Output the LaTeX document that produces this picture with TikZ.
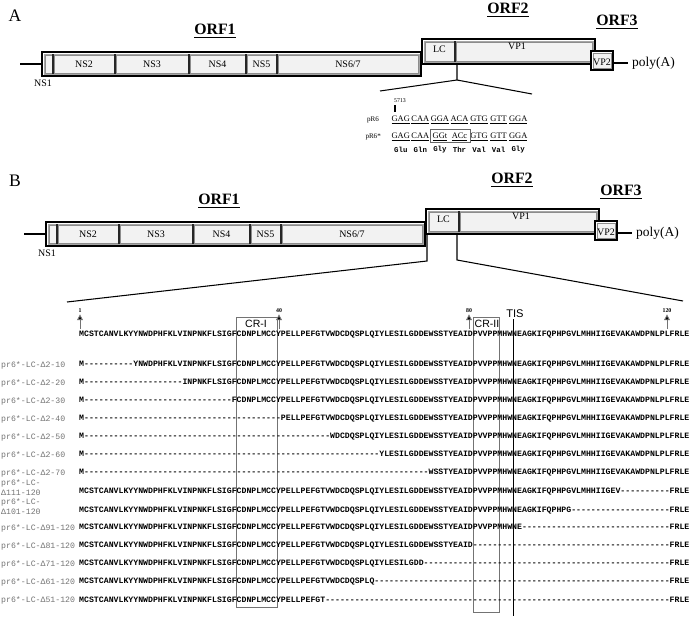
\documentclass[tikz,border=0pt]{standalone}
\usepackage{fontspec}
\setmainfont{Liberation Serif}
\setsansfont{Liberation Sans}
\setmonofont{Liberation Mono}
\usetikzlibrary{arrows.meta}
\tikzset{>=Latex}
\tikzstyle{orfframe}=[draw=black,line width=1.6pt]
\tikzstyle{inframe}=[draw=black!35,line width=0.8pt]
\tikzstyle{seg}=[draw=black!45,fill=black!5,line width=0.6pt]
\tikzstyle{divider}=[draw=black!85,line width=1.3pt]
\tikzstyle{tail}=[draw=black,line width=2.2pt]
\tikzstyle{panel}=[inner sep=0pt,font=\fontsize{15}{17}\selectfont]
\tikzstyle{orflabel}=[inner sep=0pt,font=\fontsize{13.5}{15}\selectfont\bfseries]
\tikzstyle{seglabel}=[inner sep=0pt,font=\fontsize{8.5}{10}\selectfont]
\tikzstyle{seqrow}=[anchor=west,inner sep=0pt,font=\ttfamily\bfseries\fontsize{7}{8}\selectfont]
\tikzstyle{rowname}=[anchor=west,inner sep=0pt,align=left,text=black!55,font=\ttfamily\fontsize{7}{8}\selectfont]
\tikzstyle{codon}=[inner sep=0pt,font=\fontsize{7.2}{8}\selectfont]
\tikzstyle{aa}=[inner sep=0pt,font=\ttfamily\bfseries\fontsize{6.3}{8}\selectfont]
\tikzstyle{mutbox}=[draw=black!60,line width=0.5pt]
\tikzstyle{crbox}=[draw=black!55,line width=0.6pt]
\tikzstyle{zoomline}=[draw=black,line width=0.9pt]
\tikzstyle{posmark}=[-{Triangle[width=5pt,length=5pt,fill=black]},black!55,line width=0.8pt,shorten >=1pt]
\tikzstyle{poslabel}=[inner sep=0pt,font=\bfseries\fontsize{5}{6}\selectfont]
\tikzstyle{crlabel}=[inner sep=0pt,font=\sffamily\fontsize{9}{10}\selectfont]

% genome map, used for both panels
\newcommand{\genomemap}[1]{%
	\node[orflabel] (#1orf1) at (215,31) {\underline{ORF1}};
	\node[orflabel] (#1orf2) at (508,10) {\underline{ORF2}};
	\node[orflabel] (#1orf3) at (617,22) {\underline{ORF3}};
	\coordinate (#1five) at (20,64);
	\coordinate (#1start) at (42,64);
	\draw[tail] (#1five) -- (#1start);
	% ORF2
	\draw[orfframe] (422,39) rectangle (595,64);
	\draw[inframe] (424,41) rectangle (593,62);
	\draw[seg] (425,42) rectangle (454,61);
	\draw[seg] (456,42) rectangle (592,61);
	\draw[divider] (455,41) -- (455,62);
	\node[seglabel] (#1lc) at (439.5,49) {LC};
	\node[seglabel] (#1vp1) at (517,46.5) {VP1};
	% ORF1
	\draw[orfframe] (42,52) rectangle (421,76);
	\draw[inframe] (44,54) rectangle (419,74);
	\draw[seg] (45,55) rectangle (52,73);
	\foreach \a/\b/\n/\t in {54/114/ns2/NS2, 116/188/ns3/NS3, 190/245/ns4/NS4, 247/276/ns5/NS5, 278/418/ns67/{NS6/7}}{
		\draw[seg] (\a,55) rectangle (\b,73);
		\node[seglabel] (#1\n) at ({(\a+\b)/2},64.5) {\t};
	}
	\foreach \x in {53,115,189,246,277}
		\draw[divider] (\x,54) -- (\x,74);
	\node[seglabel] (#1ns1) at (43,83) {NS1};
	% ORF3
	\draw[orfframe,fill=white] (591,51) rectangle (613,70);
	\draw[seg] (593,53) rectangle (611,68);
	\node[seglabel] (#1vp2) at (602,62.5) {VP2};
	\coordinate (#1end) at (613,63);
	\node[anchor=west,font=\fontsize{11.5}{13}\selectfont] (#1polya) at (628,63) {poly(A)};
	\draw[tail] (#1end) -- (#1polya.west);
}

% sequence in blocks of ten
\def\sqA{MCSTCANVLK}
\def\sqB{YYNWDPHFKL}
\def\sqC{VINPNKFLSI}
\def\sqD{GFCDNPLMCC}
\def\sqE{YPELLPEFGT}
\def\sqF{VWDCDQSPLQ}
\def\sqG{IYLESILGDD}
\def\sqH{EWSSTYEAID}
\def\sqI{PVVPPMHWNE}
\def\sqJ{AGKIFQPHPG}
\def\sqK{VLMHHIIGEV}
\def\sqL{AKAWDPNLPL}
\def\sqM{FRLE}
\def\gp{----------}

\begin{document}
\begin{tikzpicture}[x=0.03cm,y=-0.03cm]
	\useasboundingbox (0,0) rectangle (691,617);

	%%% panel A
	\node[panel] (lblA) at (15,16) {A};
	\genomemap{a}

	\coordinate (zA) at (457,64);
	\coordinate (zAk) at (457,80);
	\coordinate (zAl) at (380,91);
	\coordinate (zAr) at (532,94);
	\draw[zoomline] (zA) -- (zAk) -- (zAl);
	\draw[zoomline] (zAk) -- (zAr);

	\node[inner sep=0pt,font=\fontsize{5}{6}\selectfont] (nt5713) at (400,101) {5713};
	\coordinate (tk1) at (395,105);
	\coordinate (tk2) at (395,112);
	\draw[line width=1pt] (tk1) -- (tk2);

	\node[anchor=east,inner sep=0pt,font=\fontsize{6}{7}\selectfont] (pr6) at (379,120) {pR6};
	\node[anchor=east,inner sep=0pt,font=\fontsize{6}{7}\selectfont] (pr6m) at (381,136.5) {pR6*};
	\foreach \c [count=\i] in {GAG,CAA,GGA,ACA,GTG,GTT,GGA}
		\node[codon] (wt\i) at ({391+19.57*(\i-0.5)},120) {\underline{\c}};
	\foreach \c [count=\i] in {GAG,CAA,GGt,ACc,GTG,GTT,GGA}
		\node[codon] (mt\i) at ({391+19.57*(\i-0.5)},136.5) {\underline{\c}};
	\foreach \c [count=\i] in {Glu,Gln,Gly,Thr,Val,Val,Gly}
		\node[aa] (aa\i) at ({391+19.57*(\i-0.5)},150) {\c};
	\draw[mutbox] (430,129.5) rectangle (470.5,142.5);

	%%% panel B
	\node[panel] (lblB) at (15,181) {B};
	\begin{scope}[shift={(4,170)}]
		\genomemap{b}
	\end{scope}

	\coordinate (zBl) at (427,234);
	\coordinate (zBlk) at (427,261);
	\coordinate (zBle) at (67,302);
	\coordinate (zBr) at (457,234);
	\coordinate (zBrk) at (457,260);
	\coordinate (zBre) at (683,301);
	\draw[zoomline] (zBl) -- (zBlk) -- (zBle);
	\draw[zoomline] (zBr) -- (zBrk) -- (zBre);

	% residue numbers
	\foreach \x/\n in {80/1, 279/40, 469/80, 667/120}{
		\node[poslabel] (pos\n) at (\x,311) {\n};
		\coordinate (posb\n) at (\x,329);
		\draw[posmark] (posb\n) -- (pos\n.south);
	}

	% conserved regions and TIS
	\draw[crbox] (236,317) rectangle (277,607);
	\node[crlabel] (cr1) at (256,324) {CR-I};
	\draw[crbox] (473,317) rectangle (499,612);
	\node[crlabel] (cr2) at (487,324) {CR-II};
	\node[crlabel,font=\sffamily\fontsize{9.5}{10}\selectfont] (tis) at (515,314) {TIS};
	\coordinate (tist) at (513,319);
	\coordinate (tisb) at (513,616);
	\draw[line width=0.8pt] (tist) -- (tisb);

	% alignment
	\node[seqrow] (full) at (79,335) {\sqA\sqB\sqC\sqD\sqE\sqF\sqG\sqH\sqI\sqJ\sqK\sqL\sqM};

	\node[rowname] (n210) at (1,365) {pr6*-LC-Δ2-10};
	\node[seqrow] (s210) at (79,365) {M\gp YNWDPHFKL\sqC\sqD\sqE\sqF\sqG\sqH\sqI\sqJ\sqK\sqL\sqM};
	\node[rowname] (n220) at (1,383) {pr6*-LC-Δ2-20};
	\node[seqrow] (s220) at (79,383) {M\gp\gp INPNKFLSI\sqD\sqE\sqF\sqG\sqH\sqI\sqJ\sqK\sqL\sqM};
	\node[rowname] (n230) at (1,401) {pr6*-LC-Δ2-30};
	\node[seqrow] (s230) at (79,401) {M\gp\gp\gp FCDNPLMCC\sqE\sqF\sqG\sqH\sqI\sqJ\sqK\sqL\sqM};
	\node[rowname] (n240) at (1,419) {pr6*-LC-Δ2-40};
	\node[seqrow] (s240) at (79,419) {M\gp\gp\gp\gp PELLPEFGT\sqF\sqG\sqH\sqI\sqJ\sqK\sqL\sqM};
	\node[rowname] (n250) at (1,437) {pr6*-LC-Δ2-50};
	\node[seqrow] (s250) at (79,437) {M\gp\gp\gp\gp\gp WDCDQSPLQ\sqG\sqH\sqI\sqJ\sqK\sqL\sqM};
	\node[rowname] (n260) at (1,455) {pr6*-LC-Δ2-60};
	\node[seqrow] (s260) at (79,455) {M\gp\gp\gp\gp\gp\gp YLESILGDD\sqH\sqI\sqJ\sqK\sqL\sqM};
	\node[rowname] (n270) at (1,473) {pr6*-LC-Δ2-70};
	\node[seqrow] (s270) at (79,473) {M\gp\gp\gp\gp\gp\gp\gp WSSTYEAID\sqI\sqJ\sqK\sqL\sqM};

	\node[rowname] (n111) at (1,487.5) {pr6*-LC-\\Δ111-120};
	\node[seqrow] (s111) at (79,492) {\sqA\sqB\sqC\sqD\sqE\sqF\sqG\sqH\sqI\sqJ\sqK\gp\sqM};
	\node[rowname] (n101) at (1,506.5) {pr6*-LC-\\Δ101-120};
	\node[seqrow] (s101) at (79,511) {\sqA\sqB\sqC\sqD\sqE\sqF\sqG\sqH\sqI\sqJ\gp\gp\sqM};

	\node[rowname] (n91) at (1,528) {pr6*-LC-Δ91-120};
	\node[seqrow] (s91) at (79,528) {\sqA\sqB\sqC\sqD\sqE\sqF\sqG\sqH\sqI\gp\gp\gp\sqM};
	\node[rowname] (n81) at (1,546) {pr6*-LC-Δ81-120};
	\node[seqrow] (s81) at (79,546) {\sqA\sqB\sqC\sqD\sqE\sqF\sqG\sqH\gp\gp\gp\gp\sqM};
	\node[rowname] (n71) at (1,564) {pr6*-LC-Δ71-120};
	\node[seqrow] (s71) at (79,564) {\sqA\sqB\sqC\sqD\sqE\sqF\sqG\gp\gp\gp\gp\gp\sqM};
	\node[rowname] (n61) at (1,582) {pr6*-LC-Δ61-120};
	\node[seqrow] (s61) at (79,582) {\sqA\sqB\sqC\sqD\sqE\sqF\gp\gp\gp\gp\gp\gp\sqM};
	\node[rowname] (n51) at (1,600) {pr6*-LC-Δ51-120};
	\node[seqrow] (s51) at (79,600) {\sqA\sqB\sqC\sqD\sqE\gp\gp\gp\gp\gp\gp\gp\sqM};

\end{tikzpicture}
\end{document}
